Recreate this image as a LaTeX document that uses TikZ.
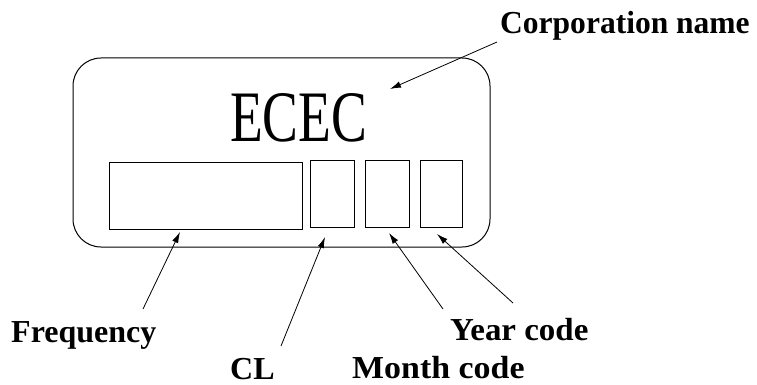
\documentclass[tikz,border=0pt]{standalone}
\usepackage{fontspec}
\setmainfont{Liberation Serif}
\usetikzlibrary{arrows.meta}
\tikzset{
  box/.style={draw, line width=0.9pt, inner sep=0pt},
  lbl/.style={inner sep=0pt, anchor=base west, font=\fontsize{32}{34}\selectfont\bfseries},
  ptr/.style={line width=0.8pt, -{Latex[length=11pt,width=6.5pt]}}
}
\begin{document}
\begin{tikzpicture}[x=1pt,y=-1pt]
\useasboundingbox (0,0) rectangle (757,385);
% outer plate
\draw[line width=1pt, rounded corners=28pt] (73,58) rectangle (490,247);
% ECEC
\node[inner sep=0pt, anchor=base west] (ecec) at (230,141)
  {\scalebox{0.74}[1]{\fontsize{72.5}{80}\selectfont ECEC}};
% fields
\node[box, minimum width=193pt, minimum height=67pt, anchor=north west] (freqbox) at (109,162) {};
\node[box, minimum width=44pt, minimum height=67pt, anchor=north west] (clbox) at (310,160) {};
\node[box, minimum width=44pt, minimum height=67pt, anchor=north west] (monbox) at (365,160) {};
\node[box, minimum width=42pt, minimum height=67pt, anchor=north west] (yearbox) at (420,160) {};
% labels
\node[lbl] (corp) at (500,34) {\scalebox{0.985}[1]{Corporation name}};
\node[lbl] (freq) at (11,342) {Frequency};
\node[lbl] (cl) at (230,379) {CL};
\node[lbl] (month) at (352,378) {\scalebox{1.06}[1]{Month code}};
\node[lbl] (year) at (450,340) {\scalebox{1.03}[1]{Year code}};
% arrow ends
\coordinate (corpS) at (497,42);  \coordinate (corpT) at (390,89);
\coordinate (freqS) at (143,309); \coordinate (freqT) at (180,232);
\coordinate (clS) at (281,346);   \coordinate (clT) at (325,237);
\coordinate (monS) at (443,309);  \coordinate (monT) at (389,233);
\coordinate (yearS) at (513,303); \coordinate (yearT) at (437,234);
\draw[ptr] (corpS) -- (corpT);
\draw[ptr] (freqS) -- (freqT);
\draw[ptr] (clS) -- (clT);
\draw[ptr] (monS) -- (monT);
\draw[ptr] (yearS) -- (yearT);
\end{tikzpicture}
\end{document}
